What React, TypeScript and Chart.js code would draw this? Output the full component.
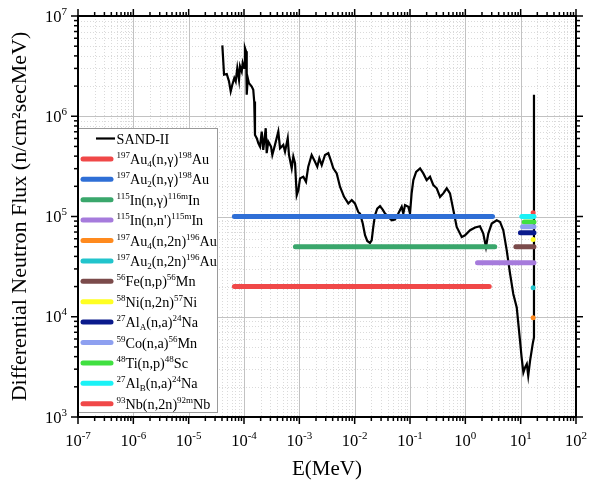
import React, { useEffect, useRef } from 'react';
import { Chart, registerables } from 'chart.js';

Chart.register(...registerables);

const FONT = '"Liberation Serif", "Times New Roman", serif';

// SAND-II spectrum: energy (MeV) and differential flux (n/cm2 sec MeV)
const sandE = [
  4.06e-5, 4.36e-5, 4.88e-5, 5.36e-5, 5.75e-5, 6.15e-5, 6.68e-5, 7.08e-5, 7.57e-5, 8.13e-5,
  8.47e-5, 9.10e-5, 9.48e-5, 1.01e-4, 1.04e-4, 1.09e-4, 1.12e-4, 1.17e-4, 1.23e-4, 1.38e-4,
  1.47e-4, 1.53e-4, 1.58e-4, 1.70e-4, 1.82e-4, 1.95e-4, 2.09e-4, 2.23e-4, 2.47e-4, 2.57e-4,
  2.75e-4, 3.08e-4, 3.25e-4, 3.63e-4, 4.17e-4, 4.48e-4, 5.13e-4, 5.51e-4, 6.17e-4, 6.50e-4,
  7.28e-4, 7.78e-4, 8.36e-4, 8.97e-4, 9.59e-4, 1.03e-3, 1.18e-3, 1.32e-3, 1.45e-3, 1.67e-3,
  1.92e-3, 2.11e-3, 2.30e-3, 2.54e-3, 2.91e-3, 3.34e-3, 3.69e-3, 4.11e-3, 4.74e-3, 5.43e-3,
  6.43e-3, 7.67e-3, 8.85e-3, 1.01e-2, 1.16e-2, 1.25e-2, 1.40e-2, 1.54e-2, 1.69e-2, 1.89e-2,
  2.03e-2, 2.17e-2, 2.33e-2, 2.56e-2, 2.87e-2, 3.21e-2, 3.54e-2, 4.06e-2, 4.68e-2, 5.36e-2,
  6.15e-2, 7.08e-2, 7.57e-2, 8.13e-2, 9.33e-2, 0.100, 0.107, 0.115, 0.129, 0.152,
  0.174, 0.200, 0.230, 0.264, 0.304, 0.349, 0.400, 0.461, 0.528, 0.607,
  0.698, 0.861, 0.987, 1.22, 1.50, 1.84, 2.11, 2.36, 2.60, 3.00,
  3.69, 4.24, 4.86, 5.60, 6.43, 7.36, 8.49, 9.73, 10.4, 11.2,
  12.0, 12.9, 13.7, 14.8, 15.8, 16.5, 17.4, 17.4,
];
const sandFlux = [
  5.10e6, 2.60e6, 2.64e6, 2.23e6, 1.77e6, 2.06e6, 2.41e6, 2.23e6, 3.03e6, 2.31e6,
  3.15e6, 2.80e6, 3.40e6, 3.03e6, 4.81e6, 4.44e6, 1.64e6, 2.41e6, 2.14e6, 1.98e6,
  1.84e6, 1.40e6, 6.51e5, 6.04e5, 5.38e5, 4.98e5, 7.03e5, 4.61e5, 7.60e5, 4.28e5,
  5.58e5, 4.98e5, 4.11e5, 5.18e5, 7.03e5, 4.80e5, 5.18e5, 4.44e5, 6.04e5, 4.11e5,
  3.02e5, 3.95e5, 3.40e5, 1.63e5, 1.83e5, 2.40e5, 2.49e5, 2.22e5, 3.14e5, 4.11e5,
  3.52e5, 3.14e5, 3.81e5, 3.26e5, 4.11e5, 4.28e5, 3.66e5, 3.02e5, 2.69e5, 1.98e5,
  1.57e5, 1.35e5, 1.46e5, 1.35e5, 1.11e5, 1.07e5, 8.51e4, 6.50e4, 5.70e4, 5.45e4,
  5.79e4, 7.87e4, 1.03e5, 1.20e5, 1.27e5, 1.17e5, 1.07e5, 9.91e4, 9.18e4, 9.33e4,
  1.07e5, 1.25e5, 1.07e5, 1.30e5, 1.25e5, 1.07e5, 1.70e5, 2.31e5, 2.79e5, 3.02e5,
  2.69e5, 2.31e5, 2.49e5, 2.06e5, 1.91e5, 1.57e5, 1.70e5, 1.91e5, 1.70e5, 1.16e5,
  7.87e4, 6.25e4, 6.50e4, 7.29e4, 7.76e4, 8.00e4, 6.76e4, 4.97e4, 6.76e4, 8.51e4,
  9.18e4, 8.83e4, 7.29e4, 4.60e4, 2.69e4, 1.69e4, 1.24e4, 5.78e3, 3.94e3, 2.78e3,
  3.12e3, 3.38e3, 2.58e3, 3.65e3, 4.59e3, 5.36e3, 6.23e3, 1.64e6,
];

// Reactions: label (^{} superscript, _{} subscript), flux level, energy range
const reactionLabels = [
  '^{197}Au_{4}(n,γ)^{198}Au',
  '^{197}Au_{2}(n,γ)^{198}Au',
  '^{115}In(n,γ)^{116m}In',
  "^{115}In(n,n')^{115m}In",
  '^{197}Au_{4}(n,2n)^{196}Au',
  '^{197}Au_{2}(n,2n)^{196}Au',
  '^{56}Fe(n,p)^{56}Mn',
  '^{58}Ni(n,2n)^{57}Ni',
  '^{27}Al_{A}(n,a)^{24}Na',
  '^{59}Co(n,a)^{56}Mn',
  '^{48}Ti(n,p)^{48}Sc',
  '^{27}Al_{B}(n,a)^{24}Na',
  '^{93}Nb(n,2n)^{92m}Nb',
];
const reactionFlux = [2.0e4, 1.0e5, 5.0e4, 3.45e4, 9.8e3, 1.95e4, 5.0e4, 5.9e4, 6.9e4, 7.9e4, 8.8e4, 1.0e5, 1.09e5];
const reactionEmin = [6.7e-5, 6.7e-5, 8.5e-4, 1.66, 16.8, 16.8, 8.2, 16.8, 9.9, 10.8, 11.6, 10.5, 16.8];
const reactionEmax = [2.7, 3.1, 3.4, 17.4, 17.4, 17.4, 17.4, 17.4, 17.4, 17.4, 17.4, 17.4, 17.4];
const reactionColors = [
  '#f04848', '#2f6fd6', '#3aa76c', '#a67bdc', '#ff8a1e', '#22c4cc', '#7b4b4b',
  '#ffff22', '#0a1a8c', '#8ea0f0', '#40e040', '#1af2f6', '#f04848',
];

const xDecades = [-7, -6, -5, -4, -3, -2, -1, 0, 1, 2];
const yDecades = [3, 4, 5, 6, 7];
const minorSteps = [2, 3, 4, 5, 6, 7, 8, 9];

type Seg = { t: string; m: number };
function parseRich(s: string): Seg[] {
  const segs: Seg[] = [];
  let buf = '';
  let i = 0;
  while (i < s.length) {
    const c = s[i];
    if ((c === '^' || c === '_') && s[i + 1] === '{') {
      if (buf) { segs.push({ t: buf, m: 0 }); buf = ''; }
      const end = s.indexOf('}', i + 2);
      segs.push({ t: s.slice(i + 2, end), m: c === '^' ? 1 : -1 });
      i = end + 1;
    } else { buf += c; i++; }
  }
  if (buf) segs.push({ t: buf, m: 0 });
  return segs;
}

function richWidth(ctx: CanvasRenderingContext2D, s: string, size: number, small: number) {
  let w = 0;
  for (const seg of parseRich(s)) {
    ctx.font = `${seg.m === 0 ? size : small}px ${FONT}`;
    w += ctx.measureText(seg.t).width;
  }
  return w;
}

function drawRich(ctx: CanvasRenderingContext2D, s: string, x: number, y: number, size: number, small: number, up: number, down: number) {
  for (const seg of parseRich(s)) {
    ctx.font = `${seg.m === 0 ? size : small}px ${FONT}`;
    const dy = seg.m === 1 ? -up : seg.m === -1 ? down : 0;
    ctx.fillText(seg.t, x, y + dy);
    x += ctx.measureText(seg.t).width;
  }
  return x;
}

const framePlugin = {
  id: 'frame',
  beforeDatasetsDraw(chart: any) {
    const { ctx, chartArea: a, scales } = chart;
    const xs = scales.x, ys = scales.y;
    ctx.save();
    ctx.lineWidth = 1;
    ctx.strokeStyle = '#dadada';
    ctx.setLineDash([1, 2]);
    for (const e of xDecades.slice(0, -1)) for (const k of minorSteps) {
      const p = Math.round(xs.getPixelForValue(k * Math.pow(10, e))) + 0.5;
      ctx.beginPath(); ctx.moveTo(p, a.top); ctx.lineTo(p, a.bottom); ctx.stroke();
    }
    for (const e of yDecades.slice(0, -1)) for (const k of minorSteps) {
      const p = Math.round(ys.getPixelForValue(k * Math.pow(10, e))) + 0.5;
      ctx.beginPath(); ctx.moveTo(a.left, p); ctx.lineTo(a.right, p); ctx.stroke();
    }
    ctx.setLineDash([]);
    ctx.strokeStyle = '#c2c2c2';
    for (const e of xDecades) {
      const p = Math.round(xs.getPixelForValue(Math.pow(10, e))) + 0.5;
      ctx.beginPath(); ctx.moveTo(p, a.top); ctx.lineTo(p, a.bottom); ctx.stroke();
    }
    for (const e of yDecades) {
      const p = Math.round(ys.getPixelForValue(Math.pow(10, e))) + 0.5;
      ctx.beginPath(); ctx.moveTo(a.left, p); ctx.lineTo(a.right, p); ctx.stroke();
    }
    ctx.restore();
  },
  afterDatasetsDraw(chart: any) {
    const { ctx, chartArea: a, scales } = chart;
    const xs = scales.x, ys = scales.y;
    ctx.save();

    // legend
    const lx0 = a.left, lx1 = 217, ly0 = 128, ly1 = 412;
    ctx.fillStyle = '#ffffff';
    ctx.fillRect(lx0, ly0, lx1 - lx0, ly1 - ly0);
    ctx.strokeStyle = '#9a9a9a';
    ctx.lineWidth = 1;
    ctx.strokeRect(lx0 + 0.5, ly0 + 0.5, lx1 - lx0, ly1 - ly0);
    ctx.textBaseline = 'alphabetic';
    ctx.textAlign = 'left';
    chart.data.datasets.forEach((ds: any, i: number) => {
      const cy = 138.5 + i * 20.4;
      ctx.beginPath();
      ctx.strokeStyle = ds.borderColor;
      ctx.lineCap = i === 0 ? 'butt' : 'round';
      ctx.lineWidth = i === 0 ? 2.2 : 5;
      ctx.moveTo(i === 0 ? 96 : 83, cy);
      ctx.lineTo(i === 0 ? 115 : 111, cy);
      ctx.stroke();
      ctx.fillStyle = '#000';
      drawRich(ctx, ds.label, 116.5, cy + 5, 14.2, 9, 6, 3);
    });

    // axes frame
    ctx.strokeStyle = '#000';
    ctx.lineWidth = 2;
    ctx.lineCap = 'butt';
    ctx.strokeRect(a.left, a.top, a.right - a.left, a.bottom - a.top);

    // ticks
    ctx.lineWidth = 1.5;
    const tick = (x1: number, y1: number, x2: number, y2: number) => {
      ctx.beginPath(); ctx.moveTo(x1, y1); ctx.lineTo(x2, y2); ctx.stroke();
    };
    for (const e of xDecades) {
      const p = xs.getPixelForValue(Math.pow(10, e));
      tick(p, a.bottom, p, a.bottom + 7);
      tick(p, a.top, p, a.top - 7);
      if (e < 2) for (const k of minorSteps) {
        const q = xs.getPixelForValue(k * Math.pow(10, e));
        tick(q, a.bottom, q, a.bottom + 4);
        tick(q, a.top, q, a.top - 4);
      }
    }
    for (const e of yDecades) {
      const p = ys.getPixelForValue(Math.pow(10, e));
      tick(a.left, p, a.left - 7, p);
      tick(a.right, p, a.right + 7, p);
      if (e < 7) for (const k of minorSteps) {
        const q = ys.getPixelForValue(k * Math.pow(10, e));
        tick(a.left, q, a.left - 4, q);
        tick(a.right, q, a.right + 4, q);
      }
    }

    // tick labels
    ctx.fillStyle = '#000';
    for (const e of xDecades) {
      const s = `10^{${e}}`;
      const w = richWidth(ctx, s, 16.5, 11);
      const p = xs.getPixelForValue(Math.pow(10, e));
      drawRich(ctx, s, p - w / 2, a.bottom + 29, 16.5, 11, 7, 0);
    }
    for (const e of yDecades) {
      const s = `10^{${e}}`;
      const w = richWidth(ctx, s, 16.5, 11);
      const p = ys.getPixelForValue(Math.pow(10, e));
      drawRich(ctx, s, a.left - 11 - w, p + 5.5, 16.5, 11, 7, 0);
    }
    ctx.restore();
  },
};

export default function App() {
  const ref = useRef<HTMLCanvasElement | null>(null);
  useEffect(() => {
    if (!ref.current) return;
    const datasets: any[] = [
      {
        label: 'SAND-II',
        data: sandE.map((e, i) => ({ x: e, y: sandFlux[i] })),
        borderColor: '#000000',
        backgroundColor: '#000000',
        borderWidth: 2.2,
        showLine: true,
        pointRadius: 0,
        tension: 0,
        order: 1,
      },
      ...reactionLabels.map((lab, i) => ({
        label: lab,
        data: [
          { x: reactionEmin[i], y: reactionFlux[i] },
          { x: reactionEmax[i], y: reactionFlux[i] },
        ],
        borderColor: reactionColors[i],
        backgroundColor: reactionColors[i],
        borderWidth: 5,
        borderCapStyle: 'round',
        showLine: true,
        pointRadius: 0,
        order: 0,
      })),
    ];
    const chart = new Chart(ref.current, {
      type: 'scatter',
      data: { datasets },
      options: {
        animation: false,
        responsive: false,
        devicePixelRatio: 1,
        events: [],
        layout: { padding: { left: 0, right: 17, top: 16, bottom: 0 } },
        plugins: { legend: { display: false }, tooltip: { enabled: false } },
        scales: {
          x: {
            type: 'logarithmic',
            position: 'bottom',
            min: 1e-7,
            max: 100,
            grid: { display: false },
            border: { display: false },
            ticks: { display: false },
            title: {
              display: true,
              text: 'E(MeV)',
              color: '#000',
              font: { family: FONT, size: 21 },
              padding: { top: 0, bottom: 1 },
            },
            afterFit: (s: any) => { s.height = 66; },
          },
          y: {
            type: 'logarithmic',
            position: 'left',
            min: 1e3,
            max: 1e7,
            grid: { display: false },
            border: { display: false },
            ticks: { display: false },
            title: {
              display: true,
              text: 'Differential Neutron Flux (n/cm²secMeV)',
              color: '#000',
              font: { family: FONT, size: 22 },
              padding: { top: 7, bottom: 0 },
            },
            afterFit: (s: any) => { s.width = 78; },
          },
        },
      } as any,
      plugins: [framePlugin],
    });
    return () => chart.destroy();
  }, []);
  return (
    <div style={{ position: 'absolute', left: 0, top: 0, width: 593, height: 483, background: '#fff' }}>
      <canvas ref={ref} width={593} height={483} />
    </div>
  );
}
